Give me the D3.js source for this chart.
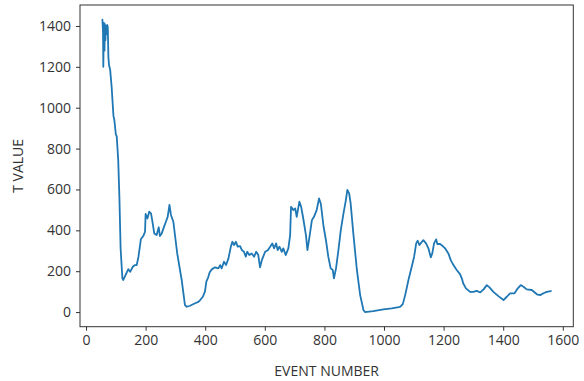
<!DOCTYPE html>
<html>
<head>
<meta charset="utf-8">
<script src="https://cdn.jsdelivr.net/npm/d3@7"></script>
<style>
  html, body { margin: 0; padding: 0; background: #fff; }
  svg { display: block; }
  text { font-family: "Open Sans", "DejaVu Sans", sans-serif; fill: #333; }
</style>
</head>
<body>
<svg id="chart" width="584" height="381"></svg>
<script>
// T value recorded per event number
const eventNumbers = [
  55, 57, 58, 60, 62, 63, 65, 67, 69, 71, 73, 75, 77, 81, 86, 92, 95, 100, 103, 108,
  112, 116, 122, 125, 131, 136, 142, 148, 157, 164, 170, 176, 184, 192, 198, 200, 206, 212, 218, 222,
  229, 237, 244, 248, 254, 262, 268, 274, 280, 285, 293, 306, 321, 332, 338, 349, 366, 377, 383, 392,
  399, 404, 410, 415, 422, 433, 444, 450, 455, 463, 470, 478, 486, 491, 497, 503, 509, 517, 523, 530,
  536, 541, 548, 556, 564, 571, 578, 584, 590, 601, 610, 618, 625, 631, 638, 643, 649, 657, 662, 670,
  679, 685, 688, 696, 702, 707, 716, 722, 729, 738, 743, 750, 758, 765, 774, 782, 788, 797, 806, 813,
  821, 828, 832, 839, 847, 855, 864, 872, 877, 883, 888, 897, 909, 920, 931, 936, 964, 998, 1026, 1054,
  1063, 1071, 1082, 1093, 1101, 1108, 1113, 1119, 1127, 1132, 1141, 1149, 1157, 1162, 1168, 1175, 1179, 1188, 1197, 1205,
  1216, 1224, 1233, 1244, 1255, 1261, 1266, 1275, 1289, 1300, 1311, 1323, 1334, 1345, 1354, 1367, 1384, 1401, 1412, 1423,
  1438, 1449, 1459, 1468, 1479, 1496, 1513, 1524, 1535, 1546, 1560
];
const tValues = [
  1431, 1370, 1200, 1415, 1280, 1410, 1330, 1400, 1360, 1405, 1395, 1250, 1210, 1185, 1100, 960, 940, 870, 860, 744,
  560, 312, 165, 157, 176, 192, 210, 197, 222, 230, 230, 271, 356, 372, 393, 480, 458, 491, 483, 450,
  385, 377, 415, 372, 385, 418, 442, 466, 524, 475, 442, 287, 157, 34, 26, 31, 43, 50, 59, 75,
  100, 150, 170, 195, 209, 219, 214, 230, 214, 246, 230, 263, 320, 344, 328, 344, 320, 323, 303, 295,
  271, 295, 279, 287, 271, 295, 279, 219, 254, 295, 303, 320, 336, 312, 336, 303, 320, 295, 312, 279,
  312, 377, 515, 499, 507, 466, 540, 515, 458, 377, 303, 369, 450, 466, 499, 556, 530, 420, 344, 271,
  214, 206, 165, 214, 303, 401, 483, 548, 598, 581, 532, 385, 206, 83, 10, 0, 5, 13, 18, 25,
  39, 83, 157, 222, 271, 336, 349, 328, 344, 352, 336, 312, 268, 287, 336, 356, 333, 333, 323, 312,
  287, 254, 230, 206, 186, 165, 140, 116, 99, 99, 104, 96, 111, 132, 121, 99, 78, 59, 75, 92,
  92, 116, 132, 124, 111, 108, 87, 83, 92, 99, 103
];
const xTicks = [0, 200, 400, 600, 800, 1000, 1200, 1400, 1600];
const yTicks = [0, 200, 400, 600, 800, 1000, 1200, 1400];
const xLabel = "EVENT NUMBER";
const yLabel = "T VALUE";

const points = eventNumbers.map((e, i) => ({ e, v: tValues[i] }));

const svg = d3.select("#chart");
const plot = { left: 80, right: 573.3, top: 5, bottom: 326.7 };

// axis limits padded by 5% of the data span on each side
function padded(ext) {
  const m = (ext[1] - ext[0]) * 0.05;
  return [ext[0] - m, ext[1] + m];
}

const x = d3.scaleLinear()
  .domain(padded(d3.extent(eventNumbers)))
  .range([plot.left, plot.right]);
const y = d3.scaleLinear()
  .domain(padded(d3.extent(tValues)))
  .range([plot.bottom, plot.top]);

// data line
svg.append("path")
  .datum(points)
  .attr("fill", "none")
  .attr("stroke", "#1f77b4")
  .attr("stroke-width", 1.8)
  .attr("stroke-linejoin", "round")
  .attr("stroke-linecap", "round")
  .attr("d", d3.line().x(d => x(d.e)).y(d => y(d.v)));

// axes
const xAxis = svg.append("g")
  .attr("transform", `translate(0,${plot.bottom})`)
  .call(d3.axisBottom(x).tickValues(xTicks).tickFormat(d3.format("d")).tickSize(4).tickPadding(4));
const yAxis = svg.append("g")
  .attr("transform", `translate(${plot.left},0)`)
  .call(d3.axisLeft(y).tickValues(yTicks).tickFormat(d3.format("d")).tickSize(4).tickPadding(5));

[xAxis, yAxis].forEach(g => {
  g.select(".domain").remove();
  g.selectAll(".tick line").attr("stroke", "#333").attr("stroke-width", 1);
  g.selectAll(".tick text")
    .style("font-family", '"Open Sans", "DejaVu Sans", sans-serif')
    .style("font-size", "14px")
    .attr("fill", "#333");
});

// frame
svg.append("rect")
  .attr("x", plot.left)
  .attr("y", plot.top)
  .attr("width", plot.right - plot.left)
  .attr("height", plot.bottom - plot.top)
  .attr("fill", "none")
  .attr("stroke", "#333")
  .attr("stroke-width", 1);

// axis titles
svg.append("text")
  .attr("x", (plot.left + plot.right) / 2 + 0)
  .attr("y", 376)
  .attr("text-anchor", "middle")
  .style("font-size", "14px")
  .text(xLabel);

svg.append("text")
  .attr("transform", `translate(23,${(plot.top + plot.bottom) / 2}) rotate(-90)`)
  .attr("text-anchor", "middle")
  .style("font-size", "14px")
  .text(yLabel);
</script>
</body>
</html>
